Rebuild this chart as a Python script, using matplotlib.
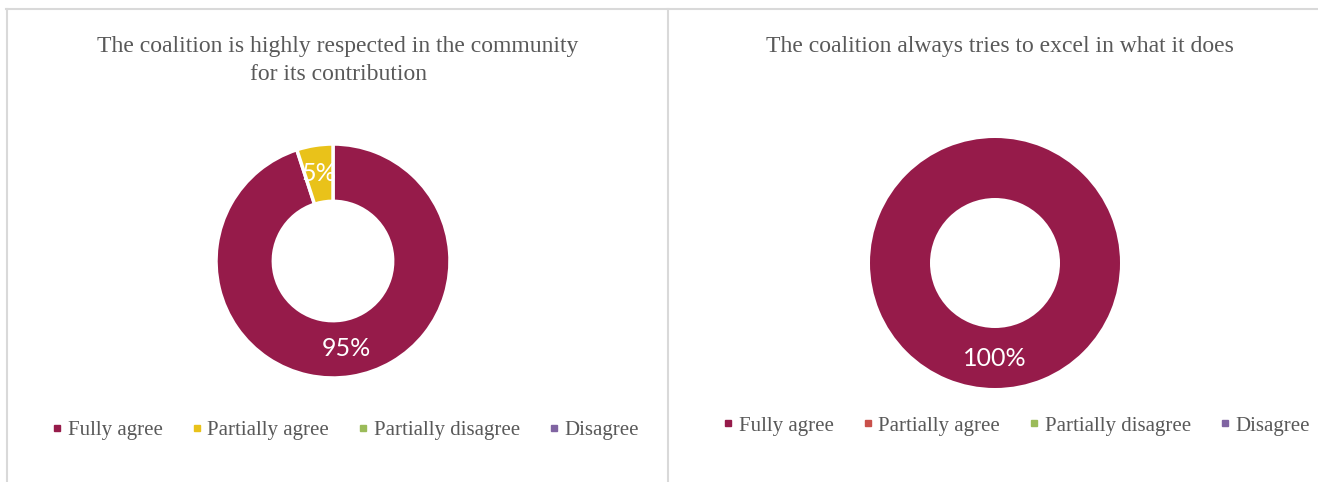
import matplotlib
matplotlib.use("Agg")
import matplotlib.pyplot as plt
from matplotlib.lines import Line2D
import numpy as np

# survey answers for the two statements
categories = ["Fully agree", "Partially agree", "Partially disagree", "Disagree"]
respected_values = [95, 5, 0, 0]
excel_values = [100, 0, 0, 0]
respected_title = "The coalition is highly respected in the community\nfor its contribution"
excel_title = "The coalition always tries to excel in what it does"

# colours per chart (second slot differs between the two)
respected_colors = ["#961B4A", "#E9C21A", "#9BBB59", "#8064A2"]
excel_colors = ["#961B4A", "#C9504A", "#9BBB59", "#8064A2"]

W, H = 1318, 482
fig = plt.figure(figsize=(W / 100, H / 100), dpi=100)
fig.patch.set_facecolor("white")

grey = "#595959"
border = "#D9D9D9"

# panel borders
fig.add_artist(Line2D([6 / W, 1], [1 - 9 / H, 1 - 9 / H], color=border, lw=1.5))
fig.add_artist(Line2D([7 / W, 7 / W], [0, 1 - 9 / H], color=border, lw=1.5))
fig.add_artist(Line2D([668 / W, 668 / W], [0, 1 - 9 / H], color=border, lw=1.5))


def donut(cx, cy, r, hole, values, colors, title, title_x, title_y, legend_x, legend_y):
    ax = fig.add_axes([(cx - r) / W, (H - cy - r) / H, 2 * r / W, 2 * r / H])
    vals = [v for v in values if v > 0]
    cols = [c for v, c in zip(values, colors) if v > 0]
    ax.pie(vals, colors=cols, startangle=90, counterclock=False, radius=1,
           wedgeprops=dict(width=1 - hole, edgecolor="white",
                           linewidth=2.5 if len(vals) > 1 else 0))
    total = sum(vals)
    start = 90.0
    for v in vals:
        mid = np.deg2rad(start - 360 * v / total / 2)
        rr = (1 + hole) / 2
        ax.text(rr * np.cos(mid), rr * np.sin(mid), f"{v}%", ha="center", va="center",
                color="white", fontsize=18, family="Lato")
        start -= 360 * v / total
    ax.set_xlim(-1, 1)
    ax.set_ylim(-1, 1)
    ax.set_aspect("equal")
    ax.axis("off")

    fig.text(title_x / W, 1 - title_y / H, title,
             ha="center", va="top", fontsize=17, family="Liberation Serif",
             color=grey, linespacing=1.45)

    handles = [Line2D([], [], marker="s", ls="", markersize=5, color=c) for c in colors]
    fig.legend(handles, categories, loc="center left", ncol=4,
               bbox_to_anchor=(legend_x / W, 1 - legend_y / H), frameon=False,
               prop=dict(family="Liberation Serif", size=15), labelcolor=grey,
               handlelength=0.5, handletextpad=0.25, columnspacing=1.4, borderpad=0,
               borderaxespad=0)


donut(333, 261, 117, 0.51, respected_values, respected_colors, respected_title, 338, 36, 52, 430)
donut(995, 263, 125, 0.52, excel_values, excel_colors, excel_title, 1000, 36, 723, 426)

fig.savefig("out.png", dpi=100, facecolor="white")
